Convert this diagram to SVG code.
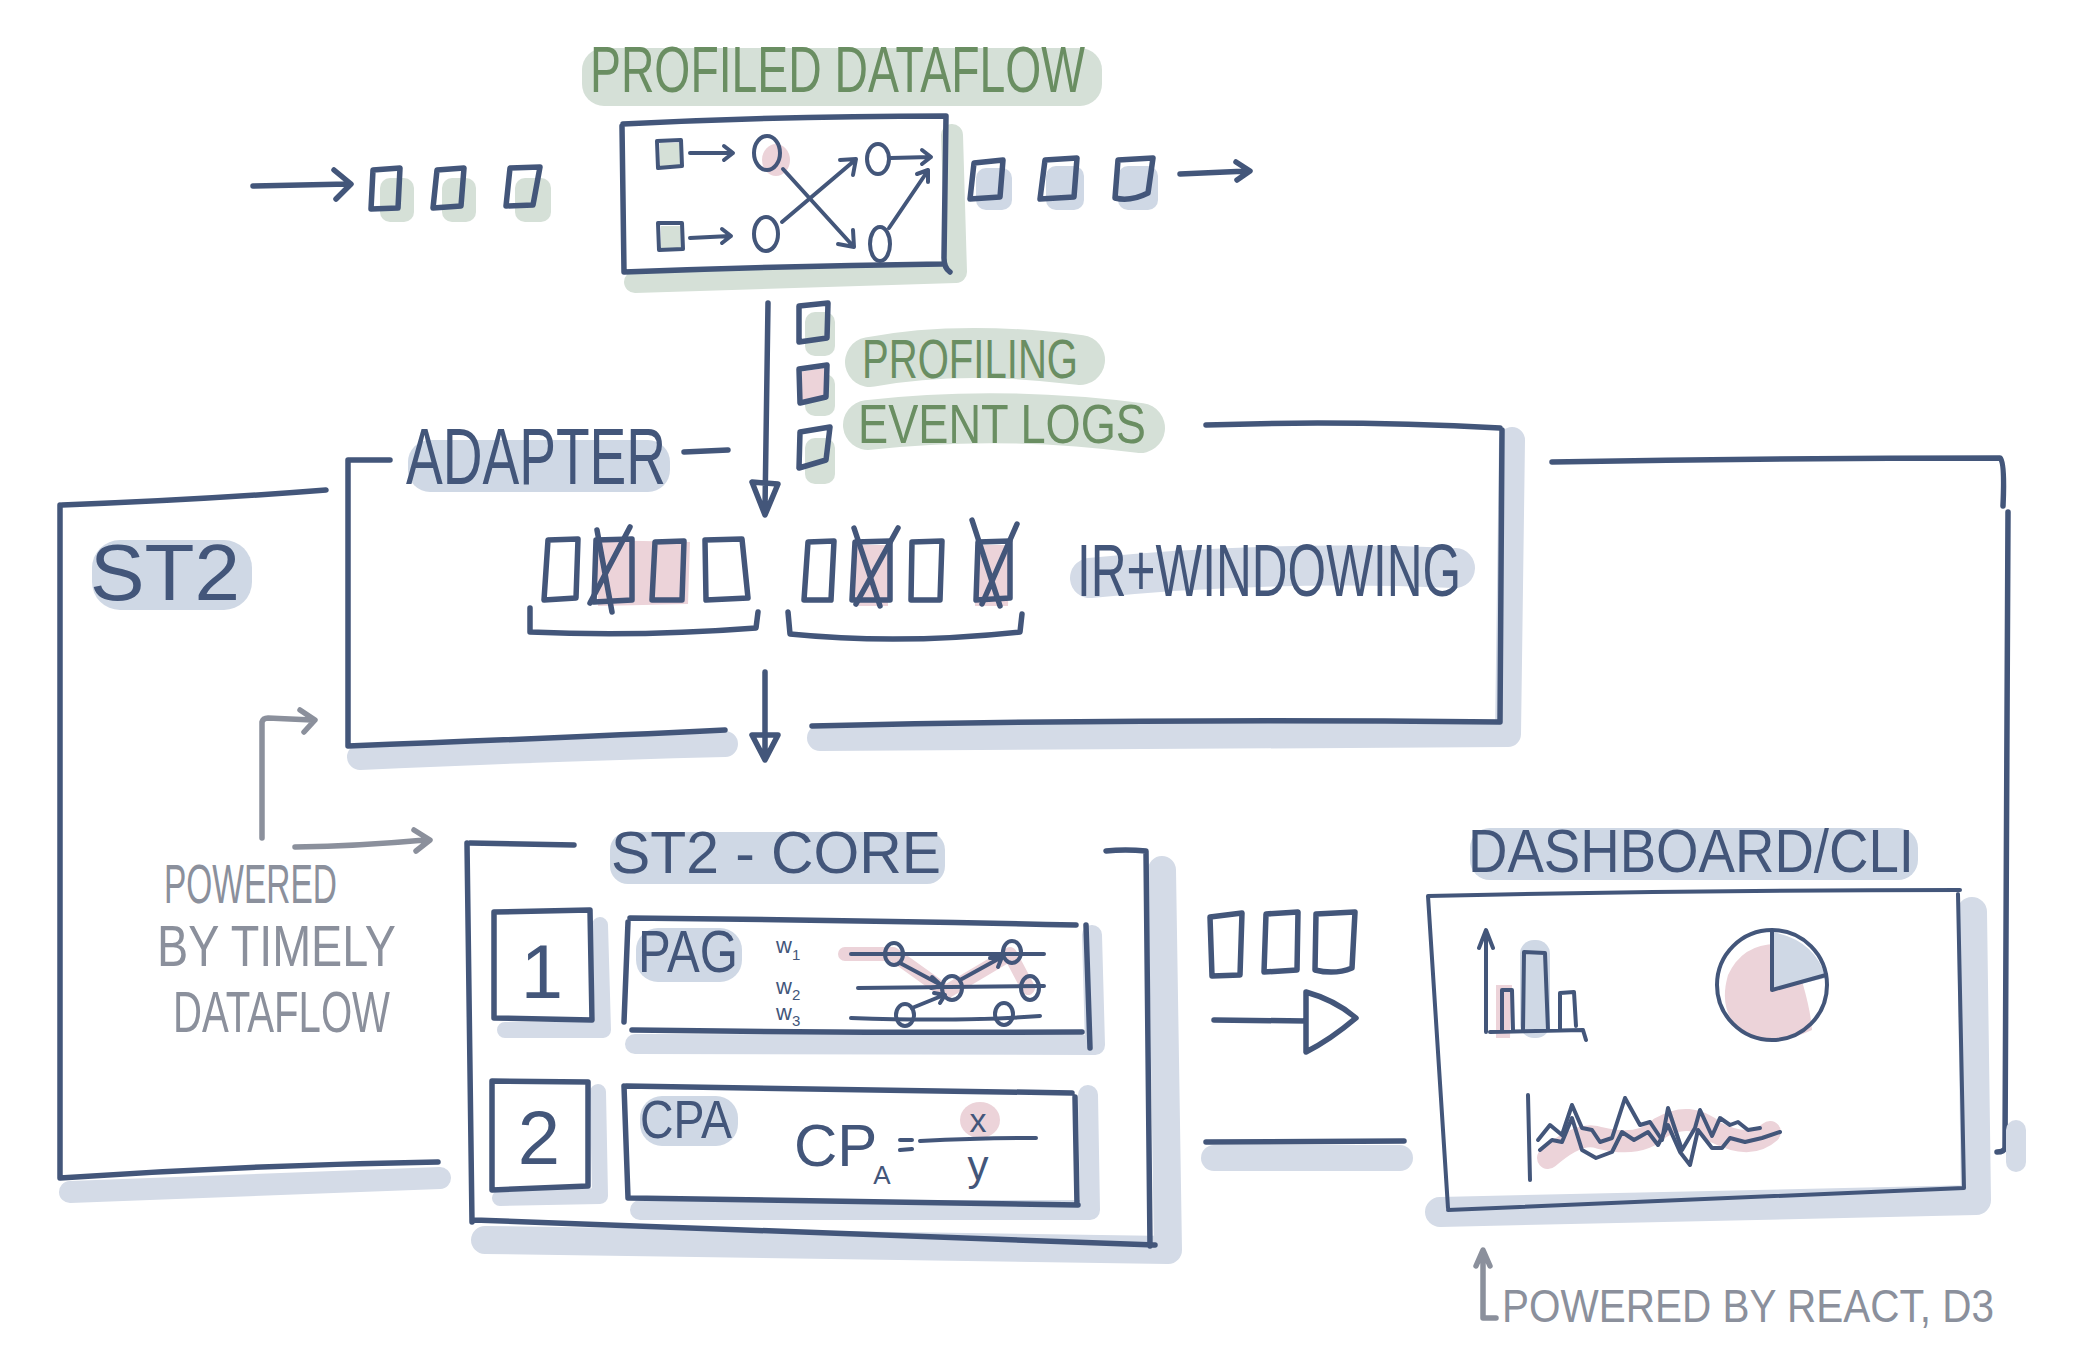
<svg xmlns="http://www.w3.org/2000/svg" width="2086" height="1358" viewBox="0 0 2086 1358">
<defs>
<style>
.ink{fill:none;stroke:#43567a;stroke-width:5.5;stroke-linecap:round;stroke-linejoin:round}
.th{stroke-width:4}
.gy{fill:none;stroke:#8b909c;stroke-width:5.5;stroke-linecap:round;stroke-linejoin:round}
.bsh{fill:none;stroke:#d4dbe7;stroke-linecap:round;stroke-linejoin:round}
.gshs{fill:none;stroke:#d5e0d7;stroke-linecap:round;stroke-linejoin:round}
.gsh{fill:#d5e0d7}
.bhl{fill:#cfd8e5}
.pk{fill:#ecd3d9}
text{font-family:"Liberation Sans",Arial,sans-serif}
.tn{fill:#43567a}
.tg{fill:#6a8e62}
.tgy{fill:#8b909c}
</style>
</defs>
<rect width="2086" height="1358" fill="#ffffff"/>

<g id="profiled-dataflow">
  <rect x="582" y="48" width="520" height="58" rx="22" class="gsh"/>
  <text x="590" y="92" font-size="64" textLength="495" lengthAdjust="spacingAndGlyphs" class="tg">PROFILED DATAFLOW</text>
  <path class="gshs" stroke-width="22" d="M952 135 L956 272 L635 282"/>
  <path class="ink" d="M623 124 Q780 116 946 116 L944 258 Q944 268 950 272 M942 264 Q780 266 624 272 L622 126"/>
  <rect x="660" y="143" width="22" height="24" class="gsh"/>
  <path class="ink th" d="M657 141 L681 140 L682 166 L658 168 Z M690 153 L732 153 M724 146 L733 153 L724 160"/>
  <ellipse cx="776" cy="160" rx="14" ry="16" class="pk"/>
  <ellipse cx="767" cy="153" rx="13" ry="17" class="ink th"/>
  <rect x="661" y="226" width="22" height="24" class="gsh"/>
  <path class="ink th" d="M658 223 L682 223 L683 249 L659 250 Z M690 238 L730 236 M722 229 L731 236 L722 243"/>
  <ellipse cx="766" cy="234" rx="12" ry="17" class="ink th"/>
  <ellipse cx="878" cy="159" rx="11" ry="15" class="ink th"/>
  <ellipse cx="880" cy="244" rx="10" ry="17" class="ink th"/>
  <path class="ink th" d="M783 169 L853 246 M838 244 L854 247 L853 230"/>
  <path class="ink th" d="M782 222 L854 161 M840 160 L856 159 L853 175"/>
  <path class="ink th" d="M891 158 L930 157 M922 150 L931 157 L922 164"/>
  <path class="ink th" d="M889 228 L927 172 M917 174 L928 170 L928 182"/>
</g>

<g id="input-events">
  <rect x="380" y="178" width="34" height="44" rx="10" class="gsh"/>
  <rect x="442" y="178" width="34" height="44" rx="10" class="gsh"/>
  <rect x="515" y="178" width="36" height="44" rx="10" class="gsh"/>
  <path class="ink" d="M373 170 L400 168 L398 208 L371 209 Z M437 170 L464 168 L461 206 L433 208 Z M510 168 L540 167 L533 205 L506 206 Z"/>
</g>

<g id="output-events">
  <rect x="976" y="168" width="36" height="42" rx="10" class="bhl"/>
  <rect x="1046" y="166" width="38" height="44" rx="10" class="bhl"/>
  <rect x="1118" y="166" width="40" height="44" rx="10" class="bhl"/>
  <path class="ink" d="M974 163 L1003 160 L1000 197 L970 199 Z M1045 160 L1077 158 L1074 197 L1040 199 Z M1118 160 L1153 158 L1148 193 Q1130 202 1115 198 Z"/>
</g>

<g id="profiling-event-logs">
  <path class="gshs" stroke-width="50" d="M870 362 Q960 345 1080 360 M868 425 Q1000 410 1140 428"/>
  <rect x="805" y="312" width="30" height="44" rx="10" class="gsh"/>
  <rect x="805" y="374" width="30" height="42" rx="10" class="gsh"/>
  <rect x="805" y="438" width="30" height="46" rx="10" class="gsh"/>
  <path class="pk" d="M799 372 L825 368 L826 398 L800 403 Z"/>
  <path class="ink" d="M799 306 L828 303 L827 338 L799 342 Z M799 369 L827 365 L826 397 L800 403 Z M800 432 L830 427 L826 460 L799 468 Z"/>
  <text x="862" y="378" font-size="56" textLength="216" lengthAdjust="spacingAndGlyphs" class="tg">PROFILING</text>
  <text x="858" y="443" font-size="56" textLength="288" lengthAdjust="spacingAndGlyphs" class="tg">EVENT LOGS</text>
</g>

<g id="st2">
  <rect x="92" y="540" width="160" height="70" rx="28" class="bhl"/>
  <text x="90" y="600" font-size="80" textLength="150" lengthAdjust="spacingAndGlyphs" class="tn">ST2</text>
  <path class="ink" d="M62 505 Q200 500 326 490 M60 505 L60 1178 M60 1178 Q250 1165 438 1162"/>
  <path class="bsh" stroke-width="22" d="M70 1192 Q250 1185 440 1178"/>
  <path class="ink" d="M1552 462 Q1780 458 2000 458 Q2005 462 2003 506 M2008 512 L2005 1148 Q2004 1152 1997 1152"/>
  <path class="bsh" stroke-width="20" d="M2016 1130 L2016 1162"/>
</g>

<g id="adapter">
  <path class="bsh" stroke-width="26" d="M360 757 Q560 748 725 744 M820 738 Q1150 735 1508 734 L1512 440"/>
  <rect x="408" y="440" width="262" height="52" rx="22" class="bhl"/>
  <text x="406" y="484" font-size="80" textLength="260" lengthAdjust="spacingAndGlyphs" class="tn">ADAPTER</text>
  <path class="ink" d="M390 460 L348 460 L348 746 M348 746 Q560 738 725 730 M812 726 Q1150 718 1500 722 L1502 430 M1500 428 Q1350 420 1206 425 M684 452 L728 450"/>
  <path class="pk" d="M596 540 L690 542 L688 604 L598 606 Z"/>
  <path class="pk" d="M855 545 L888 545 L888 606 L855 606 Z M975 545 L1010 545 L1008 606 L975 606 Z"/>
  <path class="ink" d="M548 540 L578 539 L576 598 L544 600 Z M596 540 L632 539 L632 600 L594 602 Z M655 542 L684 541 L682 600 L652 600 Z M705 540 L742 539 L748 598 L706 600 Z"/>
  <path class="ink" d="M597 530 L612 612 M630 527 L590 603"/>
  <path class="ink" d="M530 608 L530 632 Q640 637 756 628 L758 612"/>
  <path class="ink" d="M808 542 L834 541 L831 600 L804 600 Z M855 542 L890 541 L890 600 L852 600 Z M912 542 L942 541 L940 600 L911 600 Z M978 542 L1010 541 L1010 598 L976 600 Z"/>
  <path class="ink" d="M854 528 L880 606 M898 528 L856 604 M972 520 L1000 606 M1017 524 L982 604"/>
  <path class="ink" d="M788 612 L790 634 Q900 645 1020 632 L1022 614"/>
  <path class="bsh" stroke-width="40" d="M1090 578 Q1270 560 1455 568"/>
  <text x="1077" y="596" font-size="74" textLength="384" lengthAdjust="spacingAndGlyphs" class="tn">IR+WINDOWING</text>
</g>

<g id="st2-core">
  <path class="bsh" stroke-width="28" d="M1162 870 L1168 1250 L485 1240"/>
  <rect x="610" y="832" width="335" height="52" rx="18" class="bhl"/>
  <text x="611" y="873" font-size="60" textLength="330" lengthAdjust="spacingAndGlyphs" class="tn">ST2 - CORE</text>
  <path class="ink" d="M470 843 L574 845 M467 843 L472 1222 M474 1220 Q800 1232 1155 1245 M1150 1246 L1146 851 Q1125 849 1106 851"/>
  <g id="step-1">
    <path class="bsh" stroke-width="16" d="M600 925 L603 1030 L505 1030"/>
    <path class="ink" d="M494 912 L590 910 L592 1020 L494 1018 Z"/>
    <text x="542" y="998" font-size="76" text-anchor="middle" class="tn">1</text>
  </g>
  <g id="pag">
    <path class="bsh" stroke-width="20" d="M1092 935 L1095 1045 L635 1044"/>
    <rect x="636" y="928" width="106" height="54" rx="22" class="bhl"/>
    <path class="ink" d="M630 918 Q860 920 1076 925 M628 922 L624 1022 M632 1030 Q860 1033 1082 1032 M1086 925 L1090 1048"/>
    <text x="638" y="972" font-size="60" textLength="100" lengthAdjust="spacingAndGlyphs" class="tn">PAG</text>
    <text x="776" y="953" font-size="22" class="tn">w<tspan font-size="15" dy="7">1</tspan></text>
    <text x="776" y="994" font-size="22" class="tn">w<tspan font-size="15" dy="6">2</tspan></text>
    <text x="776" y="1020" font-size="22" class="tn">w<tspan font-size="15" dy="6">3</tspan></text>
    <path fill="none" stroke="#ecd3d9" stroke-width="14" stroke-linecap="round" stroke-linejoin="round" d="M845 954 L893 954 L946 992 L1010 954 L1028 988"/>
    <path class="ink th" d="M851 954 L1044 954 M858 988 L1044 986 M851 1018 Q960 1022 1040 1016"/>
    <ellipse cx="894" cy="954" rx="9" ry="11" class="ink th"/>
    <ellipse cx="1012" cy="952" rx="9" ry="11" class="ink th"/>
    <ellipse cx="952" cy="988" rx="10" ry="12" class="ink th"/>
    <ellipse cx="1030" cy="988" rx="9" ry="12" class="ink th"/>
    <ellipse cx="905" cy="1015" rx="9" ry="11" class="ink th"/>
    <ellipse cx="1004" cy="1014" rx="9" ry="11" class="ink th"/>
    <path class="ink th" d="M900 963 L941 985 M932 977 L942 986 L931 988 M960 980 L1000 958 M990 958 L1002 957 L998 967 M912 1008 L944 995 M934 993 L945 995 L940 1003"/>
  </g>
  <g id="step-2">
    <path class="bsh" stroke-width="16" d="M598 1092 L600 1196 L500 1198"/>
    <path class="ink" d="M492 1081 L588 1082 L588 1186 L492 1190 Z"/>
    <text x="539" y="1164" font-size="76" text-anchor="middle" class="tn">2</text>
  </g>
  <g id="cpa">
    <path class="bsh" stroke-width="20" d="M1088 1095 L1090 1210 L640 1210"/>
    <rect x="640" y="1096" width="98" height="50" rx="22" class="bhl"/>
    <path class="ink" d="M626 1086 Q850 1090 1072 1093 M624 1086 L628 1198 M630 1198 Q850 1202 1078 1205 M1075 1097 L1077 1205"/>
    <text x="640" y="1138" font-size="54" textLength="92" lengthAdjust="spacingAndGlyphs" class="tn">CPA</text>
    <ellipse cx="980" cy="1120" rx="20" ry="18" class="pk"/>
    <text x="794" y="1166" font-size="60" class="tn">CP<tspan font-size="26" dy="18" dx="-4">A</tspan></text>
    <path class="ink th" d="M900 1140 L912 1140 M900 1150 L912 1149 M920 1141 Q980 1138 1036 1138"/>
    <text x="978" y="1132" font-size="34" text-anchor="middle" class="tn">x</text>
    <text x="978" y="1180" font-size="42" text-anchor="middle" class="tn">y</text>
  </g>
</g>

<g id="powered-by-timely">
  <text x="164" y="903" font-size="56" textLength="173" lengthAdjust="spacingAndGlyphs" class="tgy">POWERED</text>
  <text x="157" y="966" font-size="58" textLength="239" lengthAdjust="spacingAndGlyphs" class="tgy">BY TIMELY</text>
  <text x="173" y="1032" font-size="58" textLength="217" lengthAdjust="spacingAndGlyphs" class="tgy">DATAFLOW</text>
</g>

<g id="dashboard">
  <path class="bsh" stroke-width="30" d="M1972 912 L1976 1200 L1440 1212"/>
  <rect x="1470" y="828" width="448" height="52" rx="20" class="bhl"/>
  <text x="1468" y="872" font-size="62" textLength="446" lengthAdjust="spacingAndGlyphs" class="tn">DASHBOARD/CLI</text>
  <path class="ink th" d="M1428 896 Q1700 890 1960 890 M1428 896 L1448 1208 M1448 1210 Q1700 1200 1964 1188 M1958 894 L1964 1188"/>
  <rect x="1520" y="940" width="30" height="98" rx="14" class="bhl"/>
  <path class="pk" d="M1496 985 L1512 985 L1510 1038 L1496 1038 Z"/>
  <path class="ink th" d="M1486 1032 L1486 935 M1479 948 L1486 930 L1493 948 M1490 1032 L1583 1030 L1586 1040 M1502 1030 L1502 990 L1512 990 L1513 1030 M1523 1030 L1524 952 L1545 953 L1548 1030 M1560 1030 L1560 993 L1574 992 L1576 1026"/>
  <path class="pk" d="M1728 975 Q1745 938 1790 945 Q1810 1000 1812 1030 Q1770 1050 1740 1030 Q1718 1010 1728 975 Z"/>
  <path class="bhl" d="M1772 932 Q1815 940 1826 978 L1772 990 Z"/>
  <circle cx="1772" cy="985" r="55" class="ink th"/>
  <path class="ink th" d="M1772 932 L1772 990 L1826 975"/>
  <path fill="none" stroke="#ecd3d9" stroke-width="22" stroke-linecap="round" stroke-linejoin="round" d="M1548 1158 Q1580 1130 1600 1138 Q1640 1148 1660 1128 Q1690 1110 1715 1132 Q1750 1150 1770 1132"/>
  <path class="ink th" d="M1528 1095 L1530 1180"/>
  <path class="ink th" d="M1538 1140 L1550 1125 L1562 1135 L1572 1105 L1582 1128 L1592 1130 L1600 1142 L1612 1138 L1625 1098 L1640 1125 L1650 1122 L1662 1140 L1668 1108 L1682 1150 L1695 1128 L1700 1110 L1712 1136 L1720 1118 L1730 1125 L1738 1122 L1748 1130 L1760 1128"/>
  <path class="ink th" d="M1540 1150 L1552 1140 L1562 1142 L1572 1118 L1582 1150 L1596 1158 L1612 1152 L1622 1132 L1634 1140 L1648 1132 L1658 1145 L1668 1125 L1680 1152 L1690 1165 L1698 1130 L1712 1148 L1722 1148 L1730 1138 L1745 1142 L1762 1138 L1780 1132"/>
</g>

<g id="powered-by-react">
  <text x="1502" y="1322" font-size="46" textLength="492" lengthAdjust="spacingAndGlyphs" class="tgy">POWERED BY REACT, D3</text>
</g>

<g id="connectors">
  <path class="ink" d="M253 186 L348 184 M334 170 L351 184 L336 199"/>
  <path class="ink" d="M1180 174 L1248 171 M1236 162 L1250 171 L1237 180"/>
  <path class="ink" d="M768 303 L765 508 M752 482 L778 484 L765 515 Z"/>
  <path class="ink" d="M765 672 L765 752 M752 735 L778 735 L765 760 Z"/>
  <path class="gy" d="M262 838 L262 722 Q263 718 268 718 L312 720 M300 710 L315 720 L304 732"/>
  <path class="gy" d="M295 847 Q360 846 425 840 M414 830 L430 840 L416 851"/>
  <path class="gy" d="M1483 1318 L1483 1252 M1476 1266 L1483 1250 L1490 1266 M1483 1318 L1496 1318"/>
  <path class="ink" d="M1210 917 L1242 913 L1240 975 L1212 976 Z M1266 914 L1298 912 L1297 970 L1264 972 Z M1316 914 L1355 912 L1352 968 Q1335 975 1315 970 Z"/>
  <path class="ink" stroke-width="7" d="M1214 1020 L1306 1021 M1306 992 Q1335 1000 1356 1018 Q1330 1040 1306 1052 Z"/>
  <path class="bsh" stroke-width="26" d="M1214 1158 L1400 1158"/>
  <path class="ink" d="M1206 1142 L1404 1141"/>
</g>
</svg>
